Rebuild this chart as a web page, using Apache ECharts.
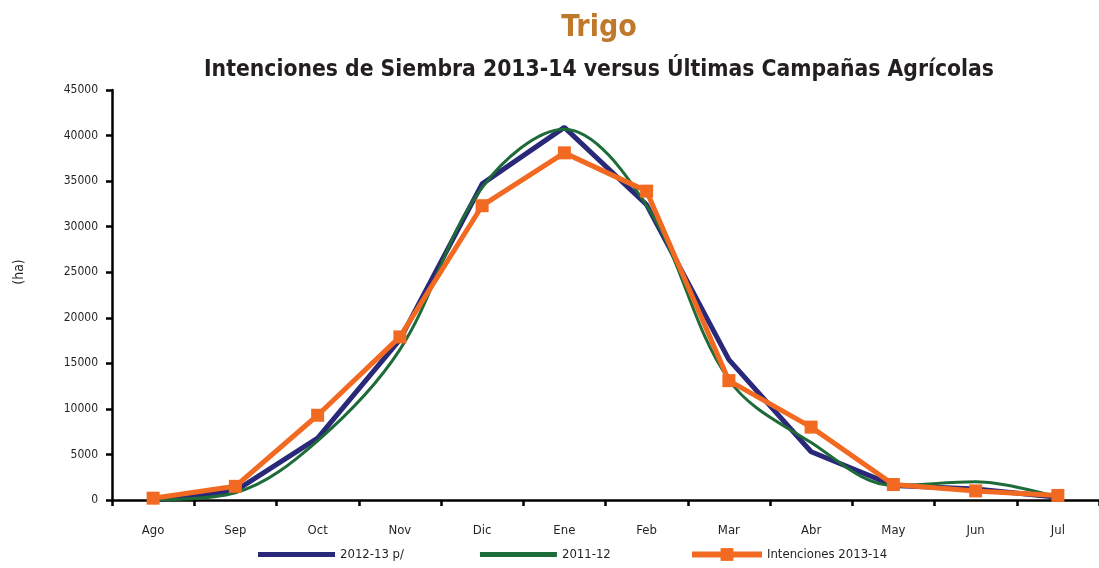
<!DOCTYPE html>
<html>
<head>
<meta charset="utf-8">
<script src="https://cdn.jsdelivr.net/npm/echarts@6/dist/echarts.min.js"></script>
<style>
  html, body { margin: 0; padding: 0; background: #fff; }
  #chart { width: 1099px; height: 568px; }
</style>
</head>
<body>
<div id="chart"></div>
<script>
// meses de campaña
const months = ['Ago', 'Sep', 'Oct', 'Nov', 'Dic', 'Ene', 'Feb', 'Mar', 'Abr', 'May', 'Jun', 'Jul'];

// superficie sembrada (ha)
const campaign1213 = [0, 1000, 6800, 17600, 34700, 40900, 32400, 15400, 5300, 1600, 1200, 300];
const campaign1112 = [0, 800, 6500, 16500, 34300, 40700, 32300, 13200, 6300, 1600, 2000, 300];
const intentions1314 = [200, 1500, 9300, 17900, 32300, 38100, 33900, 13100, 8000, 1700, 1000, 500];

const font = '"Liberation Sans Narrow", "DejaVu Sans Condensed", "Open Sans", sans-serif';
const ink = '#231F20';

const chart = echarts.init(document.getElementById('chart'));
chart.setOption({
  animation: false,
  textStyle: { fontFamily: font },
  title: [
    {
      text: 'Trigo',
      left: 594,
      textAlign: 'center',
      top: 8,
      textStyle: { color: '#C0782A', fontSize: 30, fontWeight: 'bold', fontFamily: font }
    },
    {
      text: 'Intenciones de Siembra 2013-14 versus Últimas Campañas Agrícolas',
      left: 594,
      textAlign: 'center',
      top: 54,
      textStyle: { color: ink, fontSize: 22.7, fontWeight: 'bold', fontFamily: font }
    }
  ],
  graphic: [
    {
      type: 'text',
      x: 19,
      y: 272,
      rotation: Math.PI / 2,
      style: { text: '(ha)', fill: ink, font: '14px ' + font, align: 'center', verticalAlign: 'middle' }
    }
  ],
  grid: { left: 112, right: 0, top: 90, bottom: 68 },
  legend: [
    {
      left: 253,
      top: 543,
      itemWidth: 77,
      itemHeight: 5,
      itemGap: 76,
      icon: 'rect',
      textStyle: { color: ink, fontSize: 13, fontFamily: font },
      data: ['2012-13 p/', '2011-12']
    },
    {
      left: 684,
      top: 543,
      itemWidth: 70,
      itemHeight: 16,
      lineStyle: { width: 6 },
      textStyle: { color: ink, fontSize: 13, fontFamily: font },
      data: ['Intenciones 2013-14']
    }
  ],
  xAxis: {
    type: 'category',
    data: months,
    boundaryGap: true,
    axisLine: { lineStyle: { color: '#000', width: 2.5 } },
    axisTick: { show: true, length: 6, lineStyle: { color: '#000', width: 2.5 } },
    axisLabel: { color: ink, fontSize: 13, margin: 24 }
  },
  yAxis: {
    type: 'value',
    min: 0,
    max: 45000,
    interval: 5000,
    axisLine: { show: true, lineStyle: { color: '#000', width: 2.5 } },
    axisTick: { show: true, length: 6, lineStyle: { color: '#000', width: 2.5 } },
    axisLabel: { color: ink, fontSize: 12, margin: 14, formatter: (v) => String(v) },
    splitLine: { show: false }
  },
  series: [
    {
      name: '2012-13 p/',
      type: 'line',
      data: campaign1213,
      symbol: 'none',
      color: '#2A2878',
      lineStyle: { color: '#2A2878', width: 5 }
    },
    {
      name: '2011-12',
      type: 'line',
      data: campaign1112,
      symbol: 'none',
      smooth: 0.35,
      color: '#1D6B38',
      lineStyle: { color: '#1D6B38', width: 3 }
    },
    {
      name: 'Intenciones 2013-14',
      type: 'line',
      data: intentions1314,
      symbol: 'rect',
      symbolSize: 13,
      color: '#F26A22',
      itemStyle: { color: '#F26A22' },
      lineStyle: { color: '#F26A22', width: 5 }
    }
  ]
});
</script>
</body>
</html>
